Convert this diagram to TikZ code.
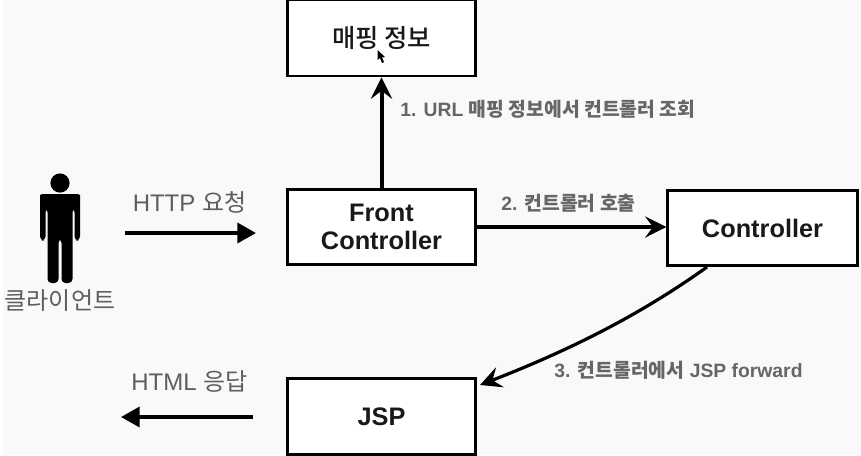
\documentclass[tikz,border=0pt]{standalone}
\usepackage{fontspec}
\setmainfont{Liberation Sans}
\newfontfamily\kr{Noto Sans CJK KR}
\newfontfamily\krm{Noto Sans CJK KR Medium}
\usetikzlibrary{arrows.meta}
\definecolor{bgc}{HTML}{F9F9F9}
\definecolor{lab}{HTML}{5E5E5E}
\definecolor{labd}{HTML}{666666}
\tikzset{
  box/.style={draw=black,line width=2.2pt,fill=white,minimum width=141pt,minimum height=56pt,inner sep=0pt,align=center,font=\fontsize{19}{21}\selectfont\bfseries,text=black!90},
  lbl/.style={text=lab,inner sep=0pt,font=\fontsize{18}{20}\selectfont},
  blbl/.style={text=labd,inner sep=0pt,font=\fontsize{14.5}{16}\selectfont\bfseries},
  conn/.style={line width=2.4pt,-{Stealth[length=16pt,width=16pt,inset=6pt]}},
  solidarrow/.style={line width=2.8pt,-{Triangle[length=14pt,width=15pt]}}
}
\begin{document}
\begin{tikzpicture}[x=0.75pt,y=-0.75pt]
\useasboundingbox (0,0) rectangle (861,455);
\fill[white] (0,0) rectangle (861,455);
\fill[bgc] (3,0) rectangle (861,455);
% person
\fill[black] (60,183) circle (9.6);
\fill[black,rounded corners=3pt] (40,240.5) -- (40,199) .. controls (40,195.5) and (42,194) .. (46,194) -- (74,194) .. controls (78,194) and (80,195.5) .. (80,199) -- (80,240.5) -- (74.5,240.5) -- (74.5,208) -- (72.5,208) -- (72.5,283) -- (61.5,283) -- (61.5,239) -- (58.5,239) -- (58.5,283) -- (47.5,283) -- (47.5,208) -- (45.5,208) -- (45.5,240.5) -- cycle;
% boxes
\node[box,minimum height=57pt] (map) at (381.5,38) {\krm\mdseries 매핑 정보};
\node[box] (front) at (381.5,227) {Front\\Controller};
\node[box,minimum width=142pt] (ctrl) at (762.5,228) {Controller};
\node[box,minimum height=57pt] (jsp) at (381.5,416.5) {JSP};
% coordinates
\coordinate (a1) at (125,233);
\coordinate (a2) at (256,233);
\coordinate (b1) at (253,417);
\coordinate (b2) at (121,417);
% connectors
\draw[solidarrow] (a1) -- (a2);
\draw[solidarrow] (b1) -- (b2);
\draw[conn,line width=3pt] (front.north) -- (map.south);
\draw[conn] (front.east |- 0,227) -- (ctrl.west |- 0,227);
\draw[conn] (707,267) .. controls (640,315) and (570,350) .. (480,385);
% cursor
\fill[black] (377.5,50) -- (377.5,60) -- (380,58) -- (382,63) -- (384,62) -- (382,57.5) -- (385,57) -- cycle;
% labels
\node[lbl] (t1) at (189.5,202) {HTTP {\kr 요청}};
\node[lbl] (t2) at (60,301) {\kr 클라이언트};
\node[lbl] (t3) at (189.5,382) {HTML {\kr 응답}};
\node[blbl] (t4) at (548,109) {1. URL {\kr 매핑 정보에서 컨트롤러 조회}};
\node[blbl] (t5) at (568.5,203) {2. {\kr 컨트롤러 호출}};
\node[blbl] (t6) at (678.5,370) {3. {\kr 컨트롤러에서} JSP forward};
\end{tikzpicture}
\end{document}
